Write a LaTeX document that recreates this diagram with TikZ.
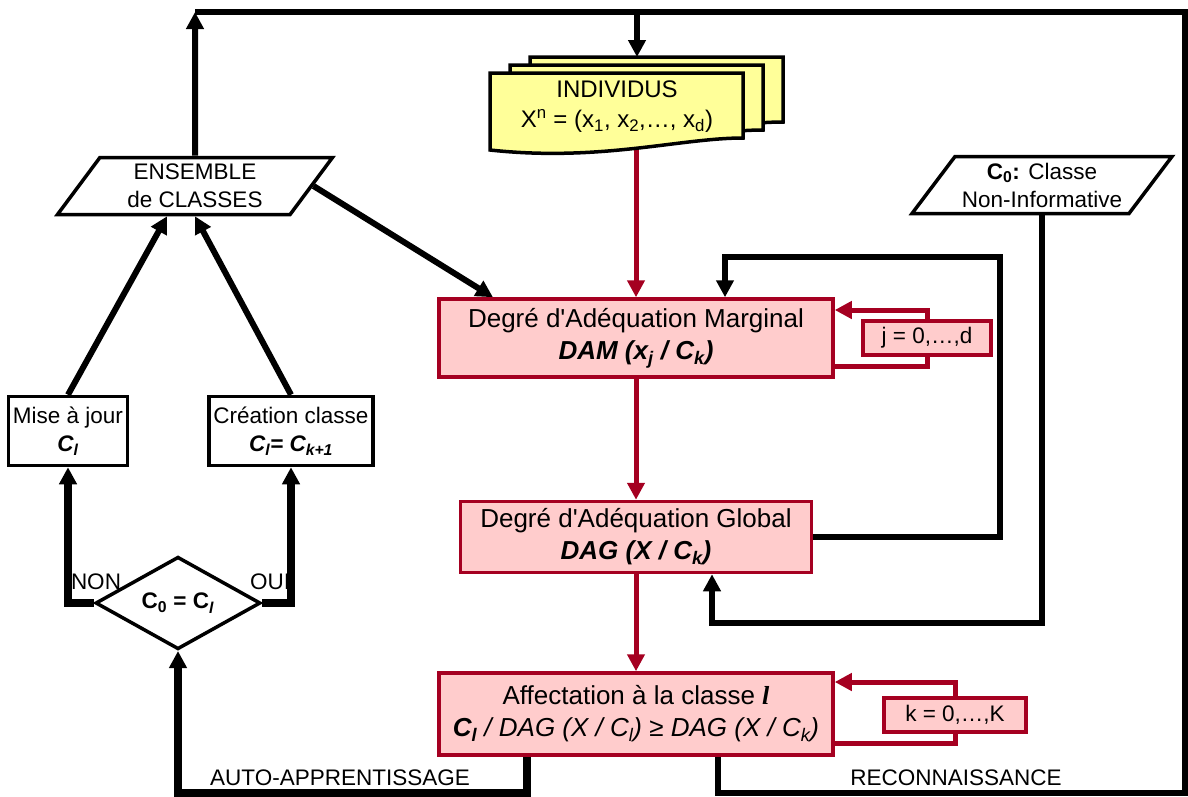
\documentclass[tikz,border=0pt]{standalone}
\usepackage{fontspec}
\setmainfont{Liberation Sans}
\newfontfamily\seriffont{Liberation Serif}
\usetikzlibrary{arrows.meta,shapes.geometric,backgrounds,calc}
\definecolor{bordeaux}{HTML}{A50021}
\definecolor{rose}{HTML}{FFCCCC}
\definecolor{jaune}{HTML}{FFFF99}
\newcommand{\gi}[1]{\textbf{\textit{#1}}}
\begin{document}
\begin{tikzpicture}[x=1pt,y=-1pt,>={Triangle[length=17pt,width=17pt]},line join=miter,
	font=\fontsize{22.5}{28}\selectfont,
	boite/.style={draw=bordeaux,fill=rose,line width=3.5pt,align=center,inner sep=0pt,font=\fontsize{26}{32}\selectfont},
	compteur/.style={draw=bordeaux,fill=rose,line width=3.5pt,inner sep=0pt,minimum height=34pt},
	cadre/.style={draw,line width=3.5pt,align=center,inner sep=0pt},
	donnee/.style={cadre,trapezium,trapezium left angle=46,trapezium right angle=134,trapezium stretches body,minimum height=57pt},
	lien/.style={->,line width=6pt},
	lienfort/.style={->,line width=7.5pt},
	lienrouge/.style={->,draw=bordeaux,line width=5pt}]
		\useasboundingbox (0,0) rectangle (1188,796);
		% les feuilles du bloc INDIVIDUS
		\foreach \dx/\dy in {40/-16,20/-8,0/0}
		\filldraw[fill=jaune,line width=3.5pt,shift={(\dx,\dy)}] (490,73) -- (743,73) -- (743,138)
		.. controls (680,138) and (600,162) .. (490,150) -- cycle;
		\node (ind) at (617,107) [align=center,font=\fontsize{24}{30}\selectfont]
		{INDIVIDUS\\X\textsuperscript{n} = (x\textsubscript{1}, x\textsubscript{2},…, x\textsubscript{d})};
		\node[boite,minimum width=394pt,minimum height=78pt] (dam) at (636,338)
		{Degré d\textquotesingle Adéquation Marginal\\\gi{DAM (x\textsubscript{j} / C\textsubscript{k})}};
		\node[boite,minimum width=351pt,minimum height=71pt] (dag) at (636,537)
		{Degré d\textquotesingle Adéquation Global\\\gi{DAG (X / C\textsubscript{k})}};
		\node[boite,minimum width=394pt,minimum height=82pt] (aff) at (636,714)
		{Affectation à la classe {\seriffont\bfseries\itshape l}\\\gi{C\textsubscript{l}} \textit{/ DAG (X / C\textsubscript{l}) ≥ DAG (X / C\textsubscript{k})}};
		\node[compteur,minimum width=128pt] (jbox) at (927,338) {j = 0,…,d};
		\node[compteur,minimum width=142pt] (kbox) at (955,715) {k = 0,…,K};
		\node[donnee,minimum width=275pt] (ens) at (195,186) {ENSEMBLE\\de CLASSES};
		\node[donnee,minimum width=260pt] (c0) at (1042,185) {\textbf{C\textsubscript{0}:} Classe\\Non-Informative};
		\node[cadre,minimum width=119pt,minimum height=69pt] (maj) at (68,431) {Mise à jour\\\gi{C\textsubscript{l}}};
		\node[cadre,minimum width=164pt,minimum height=69pt] (cre) at (291,431) {Création classe\\\gi{C\textsubscript{l}= C\textsubscript{k+1}}};
		\node[cadre,diamond,minimum width=165pt,minimum height=76pt] (test) at (178,603)
		{\textbf{C\textsubscript{0} = C\textsubscript{\textit{l}}}};
		\node (non) at (96,582) {NON};
		\node (oui) at (270,582) {OUI};
		\node (auto) at (340,778) {AUTO-APPRENTISSAGE};
		\node (reco) at (956,778) {RECONNAISSANCE};
		\coordinate (coinG) at (195,12);
		\coordinate (feuille) at (637,57);
		\coordinate (coinD) at (1185,793);
		\begin{pgfonlayer}{background}
			\draw[lienrouge] (ind.center -| dam.north) -- (dam.north);
			\draw[lienrouge] (dam) -- (dag);
			\draw[lienrouge] (dag) -- (aff);
			\draw[lienrouge] ([yshift=-28pt]dam.east) -| ([yshift=28pt]dam.east -| jbox) -- ([yshift=28pt]dam.east);
			\draw[lienrouge] ([yshift=-29pt]aff.east) -| ([yshift=32pt]aff.east -| kbox) -- ([yshift=32pt]aff.east);
			\draw[lien] (ens.north) -- (coinG);
			\draw[lien] (coinG) -| (feuille);
			\draw[line width=6pt] ([xshift=82pt]aff.south) |- (coinD) |- (feuille |- coinG);
			\draw[lienfort] ([xshift=-109pt]aff.south) |- (coinD -| test.south) -- (test.south);
			\draw[lienfort] (test.west) -| (maj.south);
			\draw[lienfort] (test.east) -| (cre.south);
			\draw[lien] (maj.north) -- ([xshift=-28pt]ens.south);
			\draw[lien] (cre.north) -- (ens.south);
			\draw[lien] (ens.east) -- ([xshift=-143pt]dam.north);
			\draw[lien] (c0.south) |- ($(dag.south)+(76,49)$) -- ([xshift=76pt]dag.south);
			\draw[lien] (dag.east) -| ($(dam.north)+(364,-40)$) -| ([xshift=89pt]dam.north);
		\end{pgfonlayer}
\end{tikzpicture}
\end{document}
